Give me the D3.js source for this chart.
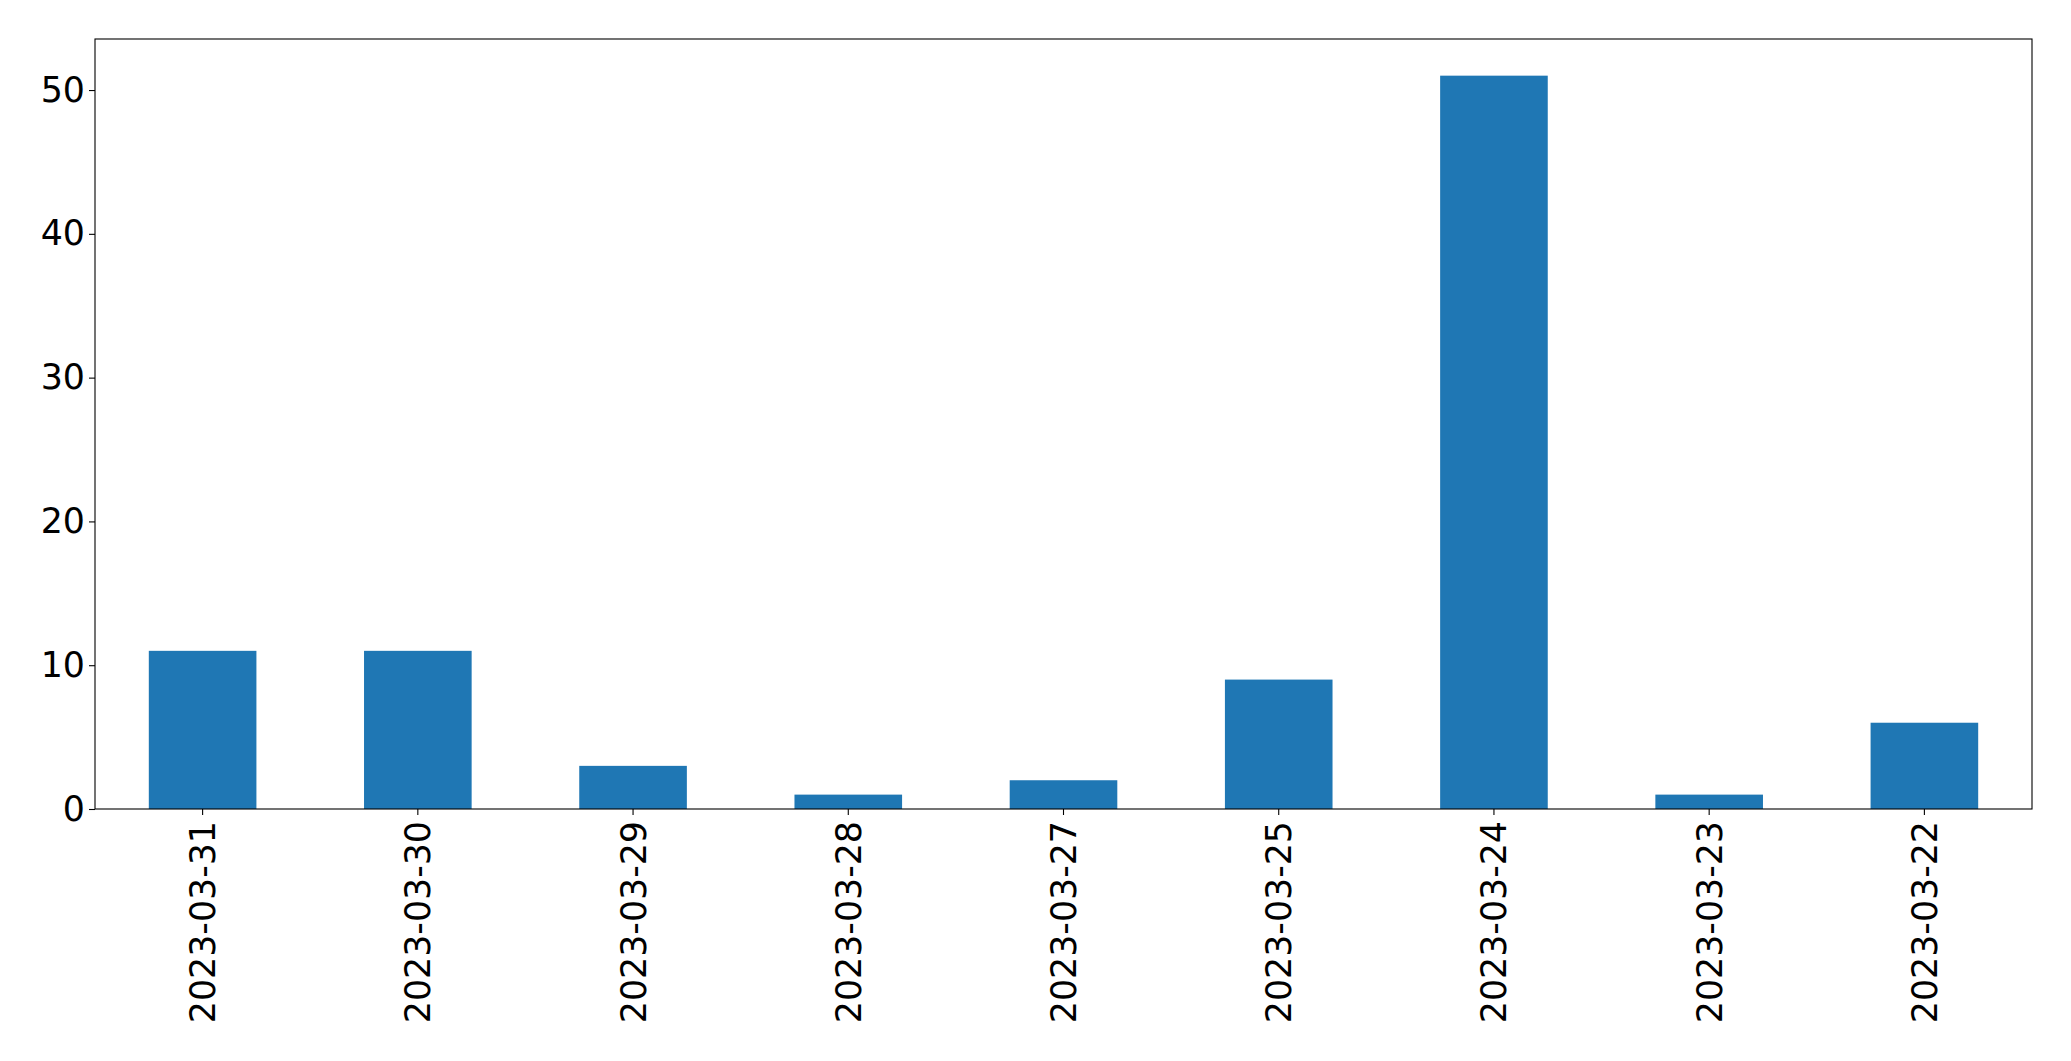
<!DOCTYPE html>
<html>
<head>
<meta charset="utf-8">
<script src="https://cdn.jsdelivr.net/npm/d3@7"></script>
<style>
  body { margin: 0; background: #fff; }
  svg { display: block; }
  text { font-family: "DejaVu Sans", sans-serif; fill: #000; }
</style>
</head>
<body>
<div id="chart"></div>
<script>
// data
const dates = ['2023-03-31', '2023-03-30', '2023-03-29', '2023-03-28', '2023-03-27',
               '2023-03-25', '2023-03-24', '2023-03-23', '2023-03-22'];
const counts = [11, 11, 3, 1, 2, 9, 51, 1, 6];
const yTicks = [0, 10, 20, 30, 40, 50];

const width = 2071, height = 1061;
const margin = { left: 95, right: 39, top: 39, bottom: 252 };
const innerW = width - margin.left - margin.right;
const innerH = height - margin.top - margin.bottom;
const fontSize = 34.8;

const svg = d3.select('#chart').append('svg')
  .attr('width', width)
  .attr('height', height);

const g = svg.append('g')
  .attr('transform', `translate(${margin.left},${margin.top})`);

// matplotlib-style: bars at integer positions, width 0.5, xlim -0.5..n-0.5
const x = d3.scaleBand()
  .domain(dates)
  .range([0, innerW])
  .paddingInner(0.5)
  .paddingOuter(0.25);

const y = d3.scaleLinear()
  .domain([0, d3.max(counts) * 1.05])
  .range([innerH, 0]);

// bars
g.append('g').attr('class', 'bars')
  .selectAll('rect')
  .data(dates)
  .enter()
  .append('rect')
  .attr('x', d => x(d))
  .attr('width', x.bandwidth())
  .attr('y', (d, i) => y(counts[i]))
  .attr('height', (d, i) => innerH - y(counts[i]))
  .attr('fill', '#1f77b4');

// y axis
const yAxis = g.append('g')
  .call(d3.axisLeft(y).tickValues(yTicks).tickSize(6).tickPadding(4));
yAxis.select('.domain').remove();
yAxis.selectAll('line').attr('stroke', '#000').attr('stroke-width', 1.1);
yAxis.selectAll('text')
  .style('font-size', fontSize + 'px')
  .attr('fill', '#000');

// x axis
const xAxis = g.append('g')
  .attr('transform', `translate(0,${innerH})`)
  .call(d3.axisBottom(x).tickSize(6).tickPadding(0));
xAxis.select('.domain').remove();
xAxis.selectAll('line').attr('stroke', '#000').attr('stroke-width', 1.1);
xAxis.selectAll('text')
  .style('font-size', fontSize + 'px')
  .attr('fill', '#000')
  .attr('text-anchor', 'end')
  .attr('transform', 'translate(0,12) rotate(-90)')
  .attr('x', 0)
  .attr('y', 0)
  .attr('dy', '0.36em');

// frame
g.append('rect')
  .attr('x', 0)
  .attr('y', 0)
  .attr('width', innerW)
  .attr('height', innerH)
  .attr('fill', 'none')
  .attr('stroke', '#000')
  .attr('stroke-width', 1.1);
</script>
</body>
</html>
